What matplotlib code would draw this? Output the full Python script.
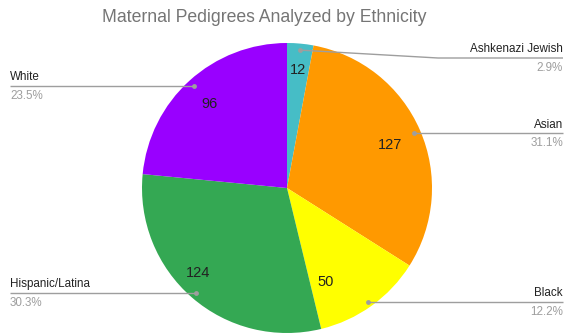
import numpy as np
import matplotlib
matplotlib.use('Agg')
import matplotlib.pyplot as plt

# 数据
categories = ['Ashkenazi Jewish', 'Asian', 'Black', 'Hispanic/Latina', 'White']
counts = [12, 127, 50, 124, 96]
percent_labels = ['2.9%', '31.1%', '12.2%', '30.3%', '23.5%']
colors = ['#46bdc6', '#ff9900', '#ffff00', '#34a853', '#9900ff']

plt.rcParams['font.family'] = ['Liberation Sans', 'DejaVu Sans']

W, H = 568, 335
fig = plt.figure(figsize=(W / 100, H / 100), dpi=100)
ax = fig.add_axes([0, 0, 1, 1])

cx, cy, r = 287, H - 188, 145
wedges, _ = ax.pie(counts, colors=colors, startangle=90, counterclock=False,
                   center=(cx, cy), radius=r, frame=True,
                   wedgeprops=dict(linewidth=0))
ax.set_xlim(0, W)
ax.set_ylim(0, H)
ax.axis('off')

# 扇区内数值的位置（径向比例、角度偏移）
value_r = [0.82, 0.77, 0.70, 0.85, 0.79]
value_dang = [0, -1, -13.5, -5.5, 0.5]
# 标签：左右侧、引线高度（像素，自上而下）
sides = ['right', 'right', 'right', 'left', 'left']
line_y = [58, 133, 302, 293, 86]
line_gray = '#9e9e9e'

for w, n, name, pct, vr, da, side, ly in zip(wedges, counts, categories, percent_labels,
                                             value_r, value_dang, sides, line_y):
    mid_deg = (w.theta1 + w.theta2) / 2
    a = np.deg2rad(mid_deg + da)
    ax.text(cx + vr * r * np.cos(a), cy + vr * r * np.sin(a), str(n),
            ha='center', va='center', fontsize=10.5, color='#222222')

    # 引线
    mid = np.deg2rad(mid_deg)
    dx, dy = cx + 0.955 * r * np.cos(mid), cy + 0.955 * r * np.sin(mid)
    y = H - ly
    if side == 'right':
        xe, ha = 563, 'right'
        if abs(dy - y) > 4:
            xs, ys = [dx, 438, xe], [dy, y, y]
        else:
            xs, ys = [dx, xe], [y, y]
    else:
        xe, ha = 10, 'left'
        xs, ys = [dx, xe], [y, y]
    ax.plot(xs, ys, color=line_gray, lw=1.0, solid_capstyle='butt')
    ax.plot([xs[0]], [ys[0]], 'o', color=line_gray, ms=3.5, mec='none')

    ax.text(xe, y + 2.5, name, ha=ha, va='bottom', fontsize=8.4, color='#222222')
    ax.text(xe, y - 4, pct, ha=ha, va='top', fontsize=8.4, color='#9e9e9e')

ax.text(264, H - 18, 'Maternal Pedigrees Analyzed by Ethnicity', ha='center', va='center',
        fontsize=12.7, color='#757575')

fig.savefig('out.png', dpi=100)
